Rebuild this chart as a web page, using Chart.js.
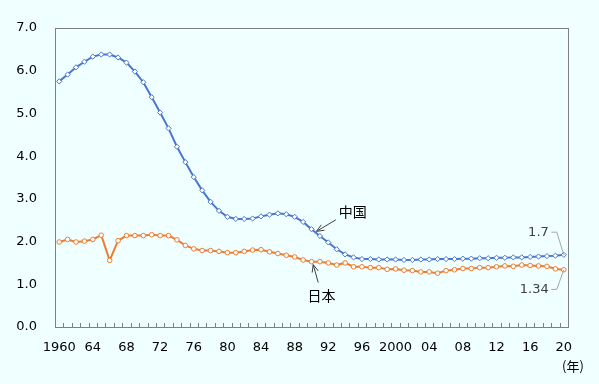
<!DOCTYPE html>
<html><head><meta charset="utf-8">
<script src="https://cdn.jsdelivr.net/npm/chart.js@4.4.1/dist/chart.umd.min.js"></script>
<style>html,body{margin:0;padding:0;background:#F0FFFF;}#wrap{width:599px;height:384px;}</style>
</head><body><div id="wrap"><canvas id="c" width="599" height="384"></canvas></div>
<script>
const years = [];
for (let y = 1960; y <= 2020; y++) years.push(String(y));
const tickLabels = ["1960","64","68","72","76","80","84","88","92","96","2000","04","08","12","16","20"];
const chinaName = "中国";
const japanName = "日本";
const unitLabel = "(年)";
const chinaTFR = [5.75,5.91,6.08,6.21,6.33,6.38,6.38,6.31,6.19,5.98,
  5.73,5.38,5.02,4.65,4.22,3.86,3.51,3.20,2.93,2.72,
  2.58,2.53,2.53,2.54,2.59,2.63,2.66,2.64,2.58,2.46,
  2.29,2.13,1.98,1.82,1.70,1.63,1.59,1.59,1.58,1.58,
  1.58,1.57,1.57,1.58,1.58,1.59,1.59,1.59,1.60,1.60,
  1.61,1.61,1.62,1.62,1.63,1.63,1.64,1.65,1.66,1.67,1.69];
const japanTFR = [1.99,2.05,1.99,2.01,2.05,2.15,1.56,2.02,2.14,2.14,
  2.14,2.16,2.14,2.14,2.04,1.91,1.83,1.79,1.79,1.77,
  1.74,1.74,1.77,1.80,1.81,1.76,1.72,1.68,1.64,1.57,
  1.53,1.53,1.50,1.45,1.50,1.41,1.41,1.39,1.39,1.35,
  1.36,1.33,1.32,1.29,1.29,1.26,1.32,1.34,1.37,1.37,
  1.39,1.39,1.41,1.43,1.42,1.45,1.44,1.43,1.42,1.36,1.34];
const chinaEndLabel = "1.7";
const japanEndLabel = "1.34";

const BLUE = '#4A76CF', ORANGE = '#EF7D31';
const numFont = '13px "DejaVu Sans"';
const cjkFont = '14px "Noto Sans CJK JP"';

function arrow(ctx, x1, y1, x2, y2) {
  ctx.beginPath(); ctx.moveTo(x1, y1); ctx.lineTo(x2, y2); ctx.stroke();
  const a = Math.atan2(y2 - y1, x2 - x1), L = 8, w = 0.4;
  ctx.beginPath();
  ctx.moveTo(x2 - L * Math.cos(a - w), y2 - L * Math.sin(a - w));
  ctx.lineTo(x2, y2);
  ctx.lineTo(x2 - L * Math.cos(a + w), y2 - L * Math.sin(a + w));
  ctx.stroke();
}

const deco = {
  id: 'deco',
  beforeDraw(chart) {
    const ctx = chart.ctx;
    ctx.save(); ctx.fillStyle = '#F0FFFF'; ctx.fillRect(0, 0, chart.width, chart.height); ctx.restore();
  },
  beforeDatasetsDraw(chart) {
    const ctx = chart.ctx, a = chart.chartArea, xs = chart.scales.x;
    ctx.save();
    ctx.strokeStyle = '#7F7F7F'; ctx.lineWidth = 1;
    ctx.strokeRect(Math.round(a.left) + 0.5, Math.round(a.top) + 0.5, Math.round(a.right - a.left), Math.round(a.bottom - a.top));
    ctx.beginPath();
    for (let i = 0; i < years.length - 1; i++) {
      const x = Math.round((xs.getPixelForValue(i) + xs.getPixelForValue(i + 1)) / 2) + 0.5;
      ctx.moveTo(x, Math.round(a.bottom)); ctx.lineTo(x, Math.round(a.bottom) - 4);
    }
    ctx.stroke();
    ctx.restore();
  },
  afterDraw(chart) {
    const ctx = chart.ctx, xs = chart.scales.x, ys = chart.scales.y;
    const px = v => xs.getPixelForValue(v), py = v => ys.getPixelForValue(v);
    ctx.save();
    // China annotation
    ctx.strokeStyle = '#404040'; ctx.lineWidth = 1;
    arrow(ctx, px(32.9), py(2.51), px(30.6), py(2.24));
    arrow(ctx, px(30.8), py(1.04), px(30.2), py(1.46));
    ctx.fillStyle = '#000'; ctx.font = cjkFont; ctx.textAlign = 'center'; ctx.textBaseline = 'middle';
    ctx.fillText(chinaName, px(34.9), py(2.70));
    ctx.fillText(japanName, px(31.2), py(0.74));
    // end labels
    const last = years.length - 1;
    ctx.strokeStyle = '#A6A6A6';
    ctx.beginPath();
    ctx.moveTo(px(last) - 12.5, py(2.22)); ctx.lineTo(px(last) - 7, py(2.22)); ctx.lineTo(px(last), py(chinaTFR[last]));
    ctx.moveTo(px(last) - 12.5, py(0.88)); ctx.lineTo(px(last) - 7, py(0.88)); ctx.lineTo(px(last), py(japanTFR[last]));
    ctx.stroke();
    ctx.fillStyle = '#404040'; ctx.font = numFont; ctx.textAlign = 'right';
    ctx.fillText(chinaEndLabel, px(last) - 15, py(2.22));
    ctx.fillText(japanEndLabel, px(last) - 15, py(0.88));
    // unit
    ctx.fillStyle = '#000'; ctx.font = '13px "Noto Sans CJK JP"'; ctx.textAlign = 'center';
    ctx.fillText(unitLabel, 573, 366);
    ctx.restore();
  }
};

new Chart(document.getElementById('c'), {
  type: 'line',
  data: {
    labels: years,
    datasets: [
      { label: chinaName, data: chinaTFR, borderColor: BLUE, borderWidth: 2,
        pointStyle: 'rectRot', pointRadius: 2.6, pointBackgroundColor: '#FFFFFF',
        pointBorderColor: BLUE, pointBorderWidth: 1, tension: 0 },
      { label: japanName, data: japanTFR, borderColor: ORANGE, borderWidth: 2,
        pointStyle: 'circle', pointRadius: 2.3, pointBackgroundColor: '#FFFFFF',
        pointBorderColor: ORANGE, pointBorderWidth: 1, tension: 0 }
    ]
  },
  options: {
    responsive: false, animation: false, devicePixelRatio: 1,
    layout: { padding: { left: 0, right: 31, top: 28, bottom: 0 } },
    plugins: { legend: { display: false }, tooltip: { enabled: false } },
    scales: {
      x: {
        offset: true,
        grid: { display: false, drawTicks: false },
        border: { display: false },
        ticks: {
          autoSkip: false, maxRotation: 0, minRotation: 0, padding: 13,
          color: '#000', font: { family: 'DejaVu Sans', size: 13 },
          callback: (v, i) => (i % 4 === 0 ? tickLabels[i / 4] : '')
        },
        afterFit: s => { s.height = 57; }
      },
      y: {
        min: 0, max: 7,
        grid: { display: false, drawTicks: false },
        border: { display: false },
        ticks: { stepSize: 1, padding: 18, color: '#000',
          font: { family: 'DejaVu Sans', size: 13 },
          callback: v => Number(v).toFixed(1) },
        afterFit: s => { s.width = 55; }
      }
    }
  },
  plugins: [deco]
});
</script></body></html>
